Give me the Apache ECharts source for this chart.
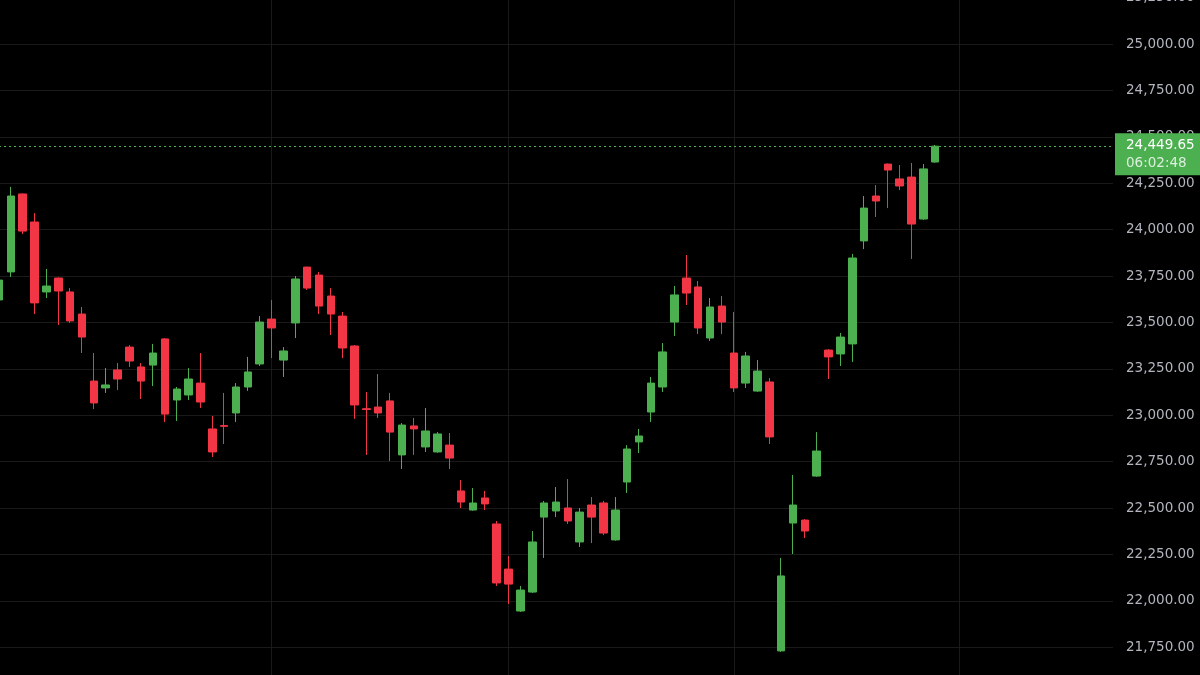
<!DOCTYPE html>
<html>
<head>
<meta charset="utf-8">
<script src="https://cdn.jsdelivr.net/npm/echarts@6/dist/echarts.min.js"></script>
<style>
  html, body { margin: 0; padding: 0; background: #000; }
  #chart { width: 1200px; height: 675px; }
</style>
</head>
<body>
<div id="chart"></div>
<script>
// ---- data ----
const opens = [
  23621, 23772, 24192, 24041, 23664, 23739, 23664, 23545, 23184, 23147,
  23244, 23367, 23260, 23270, 23411, 23082, 23109, 23173, 22926, 22944,
  23012, 23152, 23276, 23518, 23297, 23497, 23798, 23755, 23642, 23534,
  23373, 23035, 23044, 23077, 22786, 22942, 22829, 22802, 22839, 22592,
  22489, 22554, 22414, 22171, 21945, 22047, 22451, 22484, 22500, 22317,
  22516, 22527, 22328, 22640, 22856, 23017, 23152, 23502, 23739, 23691,
  23416, 23588, 23335, 23173, 23130, 23179, 21730, 22419, 22435, 22672,
  23351, 23330, 23384, 23939, 24181, 24353, 24273, 24283, 24057, 24364
];
const closes = [
  23728, 24181, 23992, 23605, 23696, 23669, 23508, 23421, 23066, 23163,
  23195, 23292, 23184, 23335, 23006, 23141, 23195, 23071, 22802, 22940,
  23152, 23233, 23502, 23470, 23346, 23734, 23685, 23588, 23545, 23362,
  23055, 23031, 23012, 22909, 22947, 22926, 22915, 22899, 22769, 22532,
  22527, 22522, 22096, 22090, 22058, 22317, 22527, 22532, 22430, 22478,
  22451, 22365, 22489, 22818, 22888, 23173, 23341, 23648, 23658, 23470,
  23583, 23502, 23147, 23319, 23238, 22883, 22134, 22516, 22376, 22807,
  23314, 23421, 23847, 24116, 24154, 24321, 24235, 24030, 24327, 24449.65
];
const lows = [
  23551, 23745, 23976, 23545, 23631, 23486, 23497, 23335, 23033, 23120,
  23136, 23260, 23087, 23157, 22963, 22969, 23082, 23039, 22775, 22845,
  22963, 23131, 23265, 23308, 23206, 23416, 23675, 23545, 23432, 23308,
  22980, 22786, 22985, 22753, 22710, 22786, 22802, 22798, 22710, 22500,
  22485, 22489, 22080, 21983, 21940, 22042, 22231, 22451, 22414, 22290,
  22311, 22354, 22324, 22581, 22796, 22963, 23125, 23427, 23594, 23437,
  23400, 23437, 23125, 23147, 23126, 22845, 21725, 22252, 22338, 22668,
  23195, 23265, 23287, 23895, 24068, 24116, 24213, 23842, 24052, 24360
];
const highs = [
  23809, 24230, 24195, 24089, 23788, 23742, 23685, 23583, 23335, 23254,
  23281, 23378, 23281, 23384, 23416, 23152, 23254, 23335, 22996, 23120,
  23173, 23314, 23534, 23621, 23367, 23750, 23800, 23772, 23685, 23556,
  23378, 23125, 23222, 23120, 22958, 22985, 23039, 22909, 22904, 22651,
  22608, 22592, 22430, 22241, 22080, 22376, 22538, 22613, 22656, 22500,
  22559, 22538, 22559, 22839, 22926, 23206, 23389, 23696, 23863, 23723,
  23631, 23642, 23556, 23341, 23297, 23200, 22231, 22678, 22440, 22909,
  23356, 23443, 23869, 24181, 24240, 24356, 24348, 24359, 24353, 24456
];
const EMPTY_SLOTS = 15;               // right-hand blank space (bar slots)
const periodStarts = [23, 43, 62, 81]; // vertical separators (bar index)
const LAST_PRICE = 24449.65;
const COUNTDOWN = '06:02:48';
const Y_MIN = 21500, Y_MAX = 25250, Y_STEP = 250;

// ---- build ----
const total = opens.length + EMPTY_SLOTS;
const categories = Array.from({ length: total }, (_, i) => String(i + 1));
const candles = opens.map((o, i) => [o, closes[i], lows[i], highs[i]]);

const UP = '#4caf50', DOWN = '#f23645';
const fmt = v => v.toLocaleString('en-US', { minimumFractionDigits: 2, maximumFractionDigits: 2 });

const chart = echarts.init(document.getElementById('chart'), null, { renderer: 'canvas' });
chart.setOption({
  backgroundColor: '#000000',
  animation: false,
  grid: { left: -1, right: 87, top: -2.4, bottom: -18.6, containLabel: false, outerBoundsMode: 'none' },
  xAxis: {
    type: 'category',
    data: categories,
    boundaryGap: false,
    axisLine: { show: false },
    axisTick: { show: false },
    axisLabel: { show: false },
    splitLine: {
      show: true,
      interval: (idx) => periodStarts.includes(idx),
      lineStyle: { color: '#1a1a1a', width: 1 }
    }
  },
  yAxis: {
    type: 'value',
    position: 'right',
    min: Y_MIN, max: Y_MAX, interval: Y_STEP,
    axisLine: { show: false },
    axisTick: { show: false },
    axisLabel: {
      margin: 13,
      color: '#b2b5be',
      fontFamily: 'DejaVu Sans',
      fontSize: 13.5,
      formatter: fmt
    },
    splitLine: { show: true, lineStyle: { color: '#1a1a1a', width: 1 } }
  },
  series: [{
    type: 'candlestick',
    data: candles,
    barWidth: 8,
    itemStyle: {
      color: UP, color0: DOWN,
      borderColor: UP, borderColor0: DOWN,
      borderWidth: 1
    },
    markLine: {
      silent: true,
      symbol: ['none', 'none'],
      lineStyle: { color: UP, type: [2, 3], width: 1, opacity: 1 },
      label: {
        show: true,
        position: 'end',
        distance: 2,
        offset: [0, 8],
        backgroundColor: UP,
        padding: [3, 12, 3, 11],
        formatter: () => '{a|' + fmt(LAST_PRICE) + '}\n{b|' + COUNTDOWN + '}',
        rich: {
          a: { color: '#ffffff', fontFamily: 'DejaVu Sans', fontSize: 13.5, lineHeight: 18 },
          b: { color: '#dcefdc', fontFamily: 'DejaVu Sans', fontSize: 13.5, lineHeight: 18 }
        }
      },
      data: [{ yAxis: LAST_PRICE }]
    }
  }]
});
</script>
</body>
</html>
